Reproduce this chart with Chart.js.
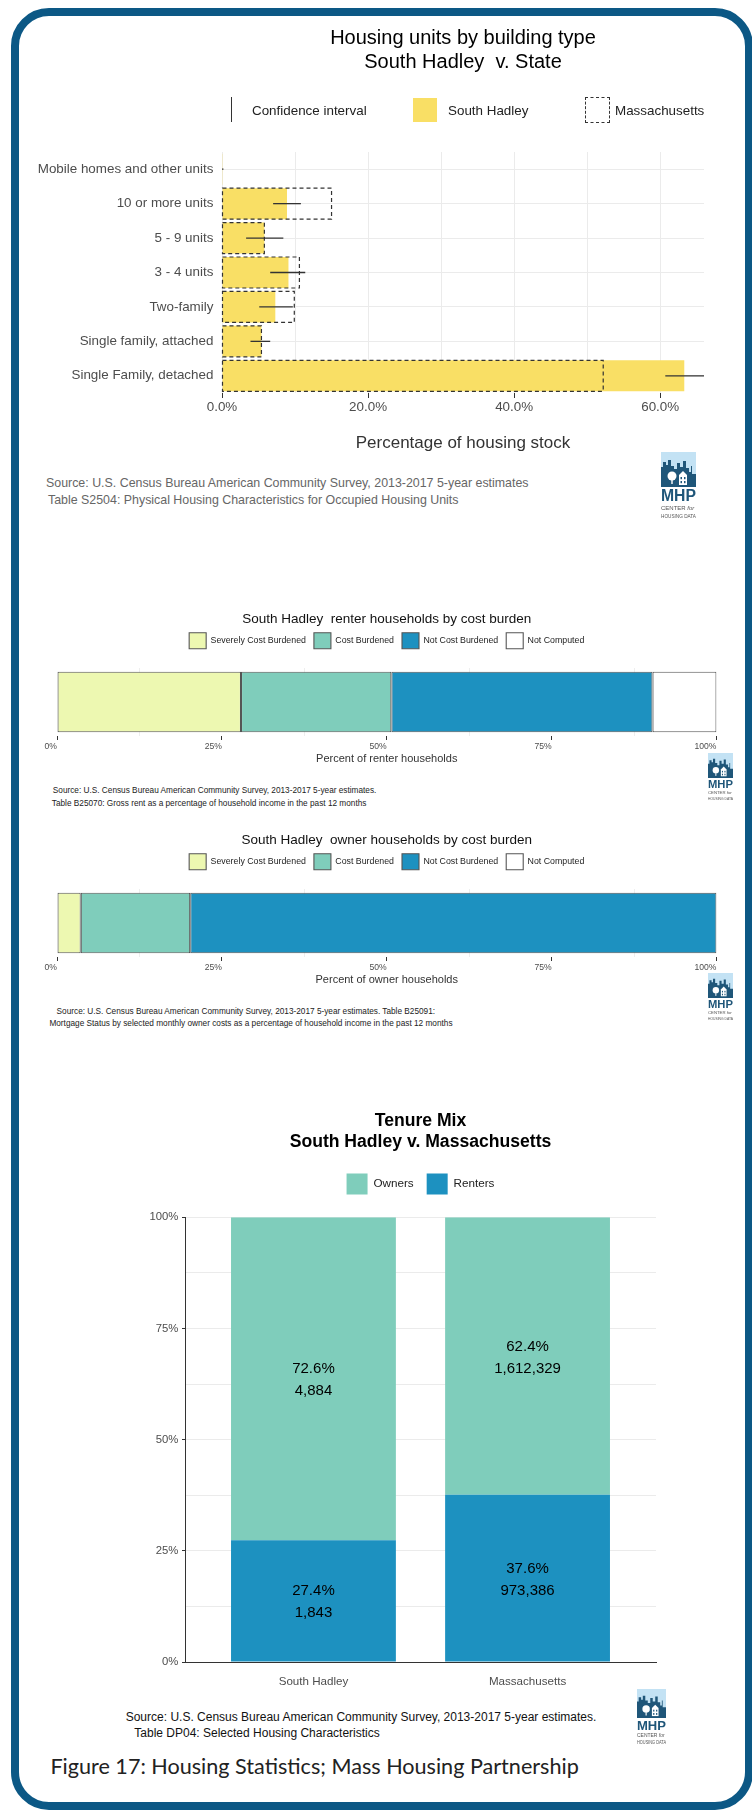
<!DOCTYPE html>
<html>
<head>
<meta charset="utf-8">
<title>Housing Statistics - South Hadley</title>
<script src="https://cdn.jsdelivr.net/npm/chart.js@4.4.1/dist/chart.umd.min.js"></script>
<style>
  html, body { margin: 0; padding: 0; background: #fff; }
  body { width: 752px; height: 1811px; position: relative; overflow: hidden; font-family: "Liberation Sans", Arial, sans-serif; }
  .frame { position: absolute; left: 11px; top: 8px; width: 726px; height: 1786px; border: 8px solid #0c5885; border-radius: 38px; }
  canvas { position: absolute; left: 0; }
  .note { position: absolute; white-space: nowrap; line-height: 1.2; }
  .logo { position: absolute; }
  .key { position: absolute; box-sizing: border-box; }
</style>
</head>
<body>
<div class="frame"></div>

<canvas id="unitsChart" width="752" height="470" style="top:0px"></canvas>
<div class="key" style="left:231px;top:97px;width:1px;height:25px;background:#333"></div>
<span class="note" style="left:252px;top:103px;font-size:13.4px;color:#222">Confidence interval</span>
<div class="key" style="left:413px;top:98px;width:24px;height:24px;background:#f9df65"></div>
<span class="note" style="left:448px;top:103px;font-size:13.4px;color:#222">South Hadley</span>
<div class="key" style="left:585px;top:97px;width:25px;height:26px;border:1px dashed #333"></div>
<span class="note" style="left:615px;top:103px;font-size:13.4px;color:#222">Massachusetts</span>
<span class="note" style="left:46px;top:475.6px;font-size:12.4px;color:#666">Source: U.S. Census Bureau American Community Survey, 2013-2017 5-year estimates</span>
<span class="note" style="left:48px;top:493.2px;font-size:12.4px;color:#666">Table S2504: Physical Housing Characteristics for Occupied Housing Units</span>
<div class="logo" style="left:661px;top:452px" data-w="35"></div>

<canvas id="renterChart" width="752" height="170" style="top:600px"></canvas>
<span class="note" style="left:52.8px;top:786px;font-size:8.25px;color:#222">Source: U.S. Census Bureau American Community Survey, 2013-2017 5-year estimates.</span>
<span class="note" style="left:51.8px;top:798.7px;font-size:8.25px;color:#222">Table B25070: Gross rent as a percentage of household income in the past 12 months</span>
<div class="logo" style="left:708px;top:753px" data-w="25"></div>

<canvas id="ownerChart" width="752" height="170" style="top:821px"></canvas>
<span class="note" style="left:56.6px;top:1006.7px;font-size:8.25px;color:#222">Source: U.S. Census Bureau American Community Survey, 2013-2017 5-year estimates. Table B25091:</span>
<span class="note" style="left:49.4px;top:1019.3px;font-size:8.25px;color:#222">Mortgage Status by selected monthly owner costs as a percentage of household income in the past 12 months</span>
<div class="logo" style="left:708px;top:973px" data-w="25"></div>

<canvas id="tenureChart" width="752" height="600" style="top:1090px"></canvas>
<span class="note" style="left:125.7px;top:1709.5px;font-size:12px;color:#111">Source: U.S. Census Bureau American Community Survey, 2013-2017 5-year estimates.</span>
<span class="note" style="left:134.3px;top:1726.1px;font-size:12px;color:#111">Table DP04: Selected Housing Characteristics</span>
<div class="logo" style="left:637px;top:1689px" data-w="29"></div>

<span class="note" style="left:50.4px;top:1754.3px;font-size:21.6px;color:#222;font-family:Lato,'Open Sans',sans-serif">Figure 17: Housing Statistics; Mass Housing Partnership</span>

<script>
// Housing units by building type (percent of housing stock)
const buildingTypes = [
  "Mobile homes and other units",
  "10 or more units",
  "5 - 9 units",
  "3 - 4 units",
  "Two-family",
  "Single family, attached",
  "Single Family, detached",
];
const southHadleyShare = [0.1, 8.9, 5.8, 9.1, 7.3, 5.4, 63.3];
const stateShare = [0, 15.0, 5.8, 10.6, 9.9, 5.4, 52.2];
const shareCiLow = [0, 7.0, 3.3, 6.6, 5.1, 3.9, 60.7];
const shareCiHigh = [0.2, 10.8, 8.4, 11.4, 9.7, 6.6, 66.0];
const shareTicks = [0, 20, 40, 60];

// Cost burden (percent of households)
const burdenCategories = ["Severely Cost Burdened", "Cost Burdened", "Not Cost Burdened", "Not Computed"];
const renterBurden = [27.9, 22.8, 39.6, 9.7];
const ownerBurden = [3.6, 16.6, 79.8, 0];
const burdenTicks = [0, 25, 50, 75, 100];

// Tenure mix
const tenurePlaces = ["South Hadley", "Massachusetts"];
const ownerShare = [72.6, 62.4];
const renterShare = [27.4, 37.6];
const ownerCount = [4884, 1612329];
const renterCount = [1843, 973386];
const tenureTicks = [0, 25, 50, 75, 100];

Chart.defaults.font.family = "'Liberation Sans', Arial, sans-serif";
Chart.defaults.color = "#4d4d4d";
Chart.defaults.animation = false;
Chart.defaults.responsive = false;
Chart.defaults.devicePixelRatio = 1;
Chart.defaults.plugins.tooltip.enabled = false;

const clear = "rgba(0,0,0,0)";

// invisible top axis, only used to leave room between legend and plot
function spacer(h) {
  return {
    axis: "x",
    type: "linear",
    position: "top",
    grid: { display: false },
    ticks: { display: false },
    border: { display: false },
    afterFit: (s) => { s.height = h; },
  };
}

// dashed outline for the state bars
const dashedBars = {
  id: "dashedBars",
  afterDatasetsDraw(chart) {
    const ctx = chart.ctx;
    ctx.save();
    ctx.setLineDash([4, 3]);
    ctx.strokeStyle = "#333";
    ctx.lineWidth = 1.2;
    chart.getDatasetMeta(1).data.forEach((bar) => {
      const { x, y, base, height } = bar.getProps(["x", "y", "base", "height"], true);
      if (x - base < 0.5) return;
      ctx.strokeRect(base, y - height / 2, x - base, height);
    });
    ctx.restore();
  },
};

const errorBars = {
  id: "errorBars",
  afterDatasetsDraw(chart) {
    const { ctx, chartArea, scales } = chart;
    ctx.save();
    ctx.beginPath();
    ctx.rect(chartArea.left, chartArea.top, chartArea.width, chartArea.height);
    ctx.clip();
    ctx.strokeStyle = "#333";
    ctx.lineWidth = 1.3;
    shareCiLow.forEach((lo, i) => {
      const y = scales.y.getPixelForValue(i);
      ctx.beginPath();
      ctx.moveTo(scales.x.getPixelForValue(lo), y);
      ctx.lineTo(scales.x.getPixelForValue(shareCiHigh[i]), y);
      ctx.stroke();
    });
    ctx.restore();
  },
};

new Chart(document.getElementById("unitsChart"), {
  type: "bar",
  data: {
    labels: buildingTypes,
    datasets: [
      {
        label: "South Hadley",
        data: southHadleyShare,
        backgroundColor: "#f9df65",
        grouped: false,
        barPercentage: 0.9,
        categoryPercentage: 1,
      },
      {
        label: "Massachusetts",
        data: stateShare,
        backgroundColor: clear,
        borderWidth: 0,
        grouped: false,
        barPercentage: 0.9,
        categoryPercentage: 1,
      },
    ],
  },
  options: {
    indexAxis: "y",
    layout: { padding: { left: 30, right: 48, top: 0, bottom: 0 } },
    plugins: {
      legend: { display: false },
      title: {
        display: true,
        fullSize: false,
        text: ["Housing units by building type", "South Hadley  v. State"],
        color: "#000",
        font: { size: 20, weight: "normal" },
        padding: { top: 26, bottom: 78 },
      },
    },
    scales: {
      x: {
        min: 0,
        max: 66,
        ticks: {
          stepSize: 10,
          includeBounds: false,
          autoSkip: false,
          maxRotation: 0,
          padding: 1,
          font: { size: 13.4 },
          callback: (v) => (shareTicks.includes(v) ? v.toFixed(1) + "%" : ""),
        },
        grid: {
          color: "#ebebeb",
          tickLength: 5,
          tickColor: (c) => (c.tick && shareTicks.includes(c.tick.value) ? "#333" : clear),
        },
        border: { display: false },
        title: {
          display: true,
          text: "Percentage of housing stock",
          color: "#333",
          font: { size: 17 },
          padding: { top: 0, bottom: 16.8 },
        },
        afterFit: (s) => { s.height = 77; },
      },
      y: {
        ticks: { padding: 8.6, font: { size: 13.4 }, color: "#4d4d4d" },
        grid: { color: "#ebebeb", offset: false, drawTicks: false },
        border: { display: false },
        afterFit: (s) => { s.width = 192; },
      },
    },
  },
  plugins: [dashedBars, errorBars],
});

// cost burden charts
const burdenColors = ["#edf8b1", "#7fcdbb", "#1d91c0", "#ffffff"];

function burdenChart(id, title, axisTitle, values) {
  new Chart(document.getElementById(id), {
    type: "bar",
    data: {
      labels: ["South Hadley"],
      datasets: burdenCategories.map((label, i) => ({
        label: label,
        data: [values[i]],
        backgroundColor: burdenColors[i],
        borderColor: "#555",
        borderWidth: 1.1,
        borderSkipped: false,
        barPercentage: 0.89,
        categoryPercentage: 1,
        xAxisID: "x",
        yAxisID: "y",
      })),
    },
    options: {
      indexAxis: "y",
      layout: { padding: { left: 57, right: 35.5, top: 0, bottom: 0 } },
      plugins: {
        title: {
          display: true,
          fullSize: false,
          text: title,
          color: "#111",
          font: { size: 13.5, weight: "normal" },
          padding: { top: 11.2, bottom: -2.7 },
        },
        legend: {
          fullSize: false,
          labels: { boxWidth: 17, boxHeight: 16, padding: 8, color: "#222", font: { size: 8.8 } },
        },
      },
      scales: {
        x: {
          stacked: true,
          min: 0,
          max: 100,
          ticks: {
            stepSize: 12.5,
            autoSkip: false,
            maxRotation: 0,
            align: "end",
            padding: 1,
            font: { size: 8.6 },
            callback: (v) => (burdenTicks.includes(v) ? v + "%" : ""),
          },
          grid: {
            color: (c) => (c.tick && !burdenTicks.includes(c.tick.value) ? "#eeeeee" : clear),
            tickLength: 4,
            tickColor: (c) => (c.tick && burdenTicks.includes(c.tick.value) ? "#333" : clear),
          },
          border: { display: false },
          title: {
            display: true,
            text: axisTitle,
            color: "#333",
            font: { size: 11 },
            padding: { top: 0, bottom: 4.1 },
          },
          afterFit: (s) => { s.height = 34; },
        },
        y: { stacked: true, display: false },
        gap: spacer(9.3),
      },
    },
  });
}

burdenChart("renterChart", "South Hadley  renter households by cost burden", "Percent of renter households", renterBurden);
burdenChart("ownerChart", "South Hadley  owner households by cost burden", "Percent of owner households", ownerBurden);

// tenure mix
const tenureLabels = {
  id: "tenureLabels",
  afterDatasetsDraw(chart) {
    const ctx = chart.ctx;
    ctx.save();
    ctx.font = "15px 'Liberation Sans', Arial, sans-serif";
    ctx.fillStyle = "#000";
    ctx.textAlign = "center";
    ctx.textBaseline = "middle";
    chart.data.datasets.forEach((ds, di) => {
      chart.getDatasetMeta(di).data.forEach((bar, i) => {
        const mid = (bar.y + bar.base) / 2;
        ctx.fillText(ds.shares[i].toFixed(1) + "%", bar.x, mid - 9.5);
        ctx.fillText(ds.counts[i].toLocaleString("en-US"), bar.x, mid + 12.5);
      });
    });
    ctx.restore();
  },
};

new Chart(document.getElementById("tenureChart"), {
  type: "bar",
  data: {
    datasets: [
      {
        label: "Renters",
        data: renterShare.map((v, i) => ({ x: i + 1, y: v })),
        shares: renterShare,
        counts: renterCount,
        backgroundColor: "#1d91c0",
        barPercentage: 0.77,
        categoryPercentage: 1,
        xAxisID: "x",
        yAxisID: "y",
      },
      {
        label: "Owners",
        data: ownerShare.map((v, i) => ({ x: i + 1, y: v })),
        shares: ownerShare,
        counts: ownerCount,
        backgroundColor: "#7fcdbb",
        barPercentage: 0.77,
        categoryPercentage: 1,
        xAxisID: "x",
        yAxisID: "y",
      },
    ],
  },
  options: {
    layout: { padding: { left: 100, right: 96, top: 0, bottom: 0 } },
    plugins: {
      title: {
        display: true,
        fullSize: false,
        text: ["Tenure Mix", "South Hadley v. Massachusetts"],
        color: "#000",
        font: { size: 17.6, weight: "bold" },
        padding: { top: 20.9, bottom: 7.4 },
      },
      legend: {
        fullSize: false,
        reverse: true,
        labels: { boxWidth: 21, boxHeight: 21, padding: 13, color: "#222", font: { size: 11.7 } },
      },
    },
    scales: {
      x: {
        type: "linear",
        stacked: true,
        offset: false,
        min: 0.4,
        max: 2.6,
        ticks: {
          stepSize: 1,
          includeBounds: false,
          padding: 5,
          font: { size: 11.6 },
          callback: (v) => tenurePlaces[v - 1] || "",
        },
        grid: { display: false, offset: false },
        border: { display: true, color: "#333", width: 1 },
        afterFit: (s) => { s.height = 28; },
      },
      y: {
        stacked: true,
        min: 0,
        max: 100,
        ticks: {
          stepSize: 12.5,
          padding: 3.6,
          font: { size: 11.3 },
          callback: (v) => (tenureTicks.includes(v) ? v + "%" : ""),
        },
        grid: {
          color: "#ebebeb",
          tickLength: 3,
          tickColor: (c) => (c.tick && tenureTicks.includes(c.tick.value) ? "#333" : clear),
        },
        border: { display: true, color: "#333", width: 1 },
        afterFit: (s) => { s.width = 85; },
      },
      gap: spacer(12.8),
    },
  },
  plugins: [tenureLabels],
});

// MHP logo, drawn as inline svg
function logoSvg(w) {
  const h = (w * 71) / 35;
  return (
    '<svg width="' + w + '" height="' + h + '" viewBox="0 0 35 71" xmlns="http://www.w3.org/2000/svg">' +
    '<rect x="0" y="0" width="35" height="35" fill="#c3e2f4"/>' +
    '<polygon fill="#1f5679" points="0,35 0,15 2,15 2,10 5,10 5,13 7,13 7,8 10,8 10,14 13,14 13,17 16,17 16,11 19,11 19,15 22,15 22,9 25,9 25,16 28,16 28,20 30,20 30,14 31,14 31,22 35,22 35,35"/>' +
    '<circle cx="11" cy="24" r="4.5" fill="#fff"/>' +
    '<rect x="10.3" y="27" width="1.4" height="5" fill="#fff"/>' +
    '<polygon fill="#fff" points="18,33 18,23 22,19 26,23 26,33"/>' +
    '<rect x="19.5" y="25" width="1.5" height="2.2" fill="#1f5679"/><rect x="23" y="25" width="1.5" height="2.2" fill="#1f5679"/>' +
    '<rect x="19.5" y="29" width="1.5" height="2.2" fill="#1f5679"/><rect x="23" y="29" width="1.5" height="2.2" fill="#1f5679"/>' +
    '<rect x="0" y="33" width="35" height="2" fill="#1f5679"/>' +
    '<text x="0" y="49" font-family="Liberation Sans, Arial" font-weight="bold" font-size="16" fill="#1f5679" textLength="35" lengthAdjust="spacingAndGlyphs">MHP</text>' +
    '<text x="0" y="58" font-family="Liberation Sans, Arial" font-size="6" fill="#555">CENTER <tspan font-style="italic">for</tspan></text>' +
    '<text x="0" y="66" font-family="Liberation Sans, Arial" font-size="6" fill="#555" textLength="35" lengthAdjust="spacingAndGlyphs">HOUSING DATA</text>' +
    "</svg>"
  );
}

document.querySelectorAll(".logo").forEach((el) => {
  el.innerHTML = logoSvg(Number(el.dataset.w));
});
</script>
</body>
</html>
